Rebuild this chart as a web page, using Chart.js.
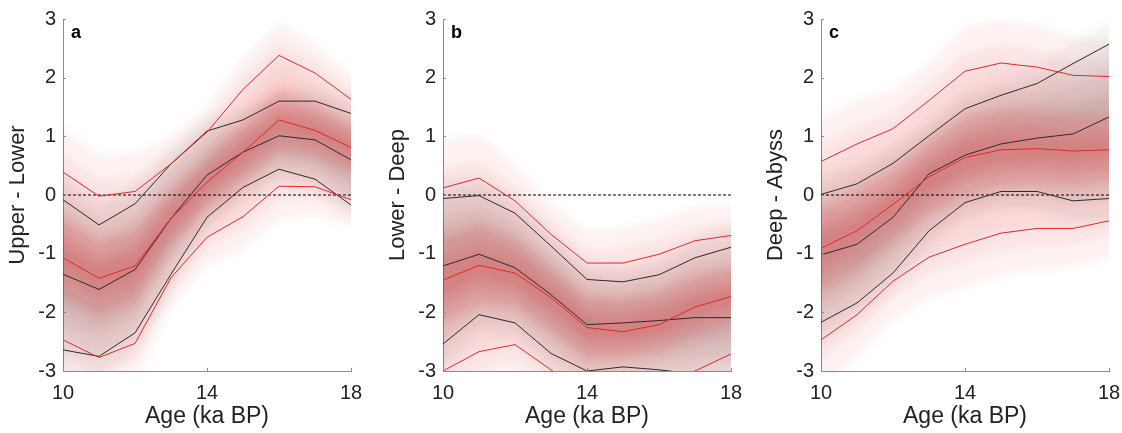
<!DOCTYPE html>
<html>
<head>
<meta charset="utf-8">
<script src="https://cdn.jsdelivr.net/npm/chart.js@4/dist/chart.umd.min.js"></script>
<style>
  html, body { margin: 0; padding: 0; background: #fff; overflow: hidden; }
  #wrap { position: relative; width: 1122px; height: 433px; }
  canvas { position: absolute; top: 0; }
</style>
</head>
<body>
<div id="wrap">
  <canvas id="ca" width="373" height="433" style="left:0px"></canvas>
  <canvas id="cb" width="373" height="433" style="left:380px"></canvas>
  <canvas id="cc" width="373" height="433" style="left:758px"></canvas>
</div>
<script>
// ages (ka BP)
var ages = [10, 11, 12, 13, 14, 15, 16, 17, 18];

// a: Upper - Lower
var aRedHi   = [0.39, -0.02, 0.06, 0.53, 1.07, 1.80, 2.38, 2.08, 1.63];
var aBlkHi   = [-0.08, -0.51, -0.15, 0.53, 1.09, 1.28, 1.60, 1.60, 1.39];
var aRedMid  = [-1.07, -1.42, -1.21, -0.40, 0.22, 0.73, 1.28, 1.10, 0.81];
var aBlkMid  = [-1.35, -1.61, -1.27, -0.40, 0.34, 0.73, 1.01, 0.94, 0.60];
var aBlkLo   = [-2.64, -2.75, -2.35, -1.35, -0.38, 0.13, 0.44, 0.27, -0.17];
var aRedLo   = [-2.47, -2.77, -2.53, -1.41, -0.72, -0.37, 0.15, 0.14, -0.08];

// b: Lower - Deep
var bRedHi   = [0.12, 0.29, -0.10, -0.67, -1.16, -1.16, -1.01, -0.78, -0.69];
var bBlkHi   = [-0.06, -0.01, -0.31, -0.87, -1.44, -1.48, -1.36, -1.07, -0.89];
var bRedMid  = [-1.45, -1.20, -1.33, -1.75, -2.26, -2.33, -2.21, -1.91, -1.73];
var bBlkMid  = [-1.21, -1.01, -1.24, -1.70, -2.21, -2.18, -2.14, -2.09, -2.09];
var bBlkLo   = [-2.54, -2.04, -2.18, -2.70, -3.00, -2.93, -2.98, -3.05, -3.15];
var bRedLo   = [-3.00, -2.67, -2.55, -2.98, -3.40, -3.30, -3.20, -3.00, -2.71];

// c: Deep - Abyss
var cRedHi   = [0.57, 0.87, 1.13, 1.61, 2.11, 2.25, 2.18, 2.04, 2.02];
var cBlkHi   = [0.01, 0.19, 0.54, 1.01, 1.47, 1.70, 1.90, 2.24, 2.57];
var cRedMid  = [-0.91, -0.61, -0.16, 0.31, 0.64, 0.77, 0.79, 0.75, 0.77];
var cBlkMid  = [-1.02, -0.84, -0.38, 0.36, 0.68, 0.87, 0.97, 1.04, 1.33];
var cBlkLo   = [-2.17, -1.84, -1.33, -0.61, -0.13, 0.06, 0.06, -0.10, -0.06];
var cRedLo   = [-2.47, -2.04, -1.47, -1.06, -0.84, -0.65, -0.57, -0.57, -0.44];

var yTicks = [-3, -2, -1, 0, 1, 2, 3];
var xTicks = [10, 14, 18];
var zeroLine = [0, 0];

var RED = '#dc2a2a';
var BLK = '#2b2b2b';
var AXIS = '#8a8a8a';
var FONT = "'Liberation Sans', Arial, sans-serif";

function pts(arr) {
	return arr.map(function(v, i) { return {x: ages[i], y: v}; });
}

// soft ensemble cloud around the median, scaled towards the envelopes
var cloud = {
	id: 'cloud',
	beforeDatasetsDraw: function(chart) {
		var opt = chart.options.plugins.cloud;
		var ctx = chart.ctx, a = chart.chartArea;
		var xs = chart.scales.x, ys = chart.scales.y;
		ctx.save();
		ctx.beginPath();
		ctx.rect(a.left, a.top, a.width, a.height);
		ctx.clip();
		ctx.filter = 'blur(4px)';
		opt.sets.forEach(function(s) {
			s.steps.forEach(function(f) {
				ctx.beginPath();
				var n = ages.length;
				for (var i = 0; i < n; i++) {
					var v = s.mid[i] + f * (s.hi[i] - s.mid[i]);
					var px = xs.getPixelForValue(ages[i]);
					if (i == 0) { ctx.moveTo(px - 12, ys.getPixelForValue(v)); }
					ctx.lineTo(px, ys.getPixelForValue(v));
					if (i == n - 1) { ctx.lineTo(px + 12, ys.getPixelForValue(v)); }
				}
				for (var j = n - 1; j >= 0; j--) {
					var w = s.mid[j] + f * (s.lo[j] - s.mid[j]);
					var qx = xs.getPixelForValue(ages[j]);
					if (j == n - 1) { ctx.lineTo(qx + 12, ys.getPixelForValue(w)); }
					ctx.lineTo(qx, ys.getPixelForValue(w));
					if (j == 0) { ctx.lineTo(qx - 12, ys.getPixelForValue(w)); }
				}
				ctx.closePath();
				ctx.fillStyle = s.color;
				ctx.fill();
			});
		});
		ctx.restore();
	}
};

// inward tick marks and panel letter
var decor = {
	id: 'decor',
	afterDraw: function(chart) {
		var ctx = chart.ctx, a = chart.chartArea;
		var xs = chart.scales.x, ys = chart.scales.y;
		ctx.save();
		ctx.strokeStyle = AXIS;
		ctx.lineWidth = 1;
		ctx.beginPath();
		xTicks.forEach(function(t) {
			var px = Math.round(xs.getPixelForValue(t)) + 0.5;
			ctx.moveTo(px, a.bottom);
			ctx.lineTo(px, a.bottom - 3);
		});
		yTicks.forEach(function(t) {
			var py = Math.round(ys.getPixelForValue(t)) + 0.5;
			ctx.moveTo(a.left, py);
			ctx.lineTo(a.left + 3, py);
		});
		ctx.stroke();
		ctx.fillStyle = '#000';
		ctx.font = 'bold 18px ' + FONT;
		ctx.textBaseline = 'alphabetic';
		ctx.fillText(chart.options.plugins.decor.letter, a.left + 8, a.top + 19);
		ctx.restore();
	}
};

function makeChart(id, letter, title, redHi, blkHi, redMid, blkMid, blkLo, redLo) {
	var line = function(arr, color) {
		return {data: pts(arr), borderColor: color, borderWidth: 1, pointRadius: 0, tension: 0, fill: false};
	};
	return new Chart(document.getElementById(id), {
		type: 'line',
		data: {
			datasets: [
				line(redHi, RED), line(redMid, RED), line(redLo, RED),
				line(blkHi, BLK), line(blkMid, BLK), line(blkLo, BLK),
				{data: [{x: 10, y: zeroLine[0]}, {x: 18, y: zeroLine[1]}], borderColor: '#000', borderWidth: 1,
				 borderDash: [3, 2], pointRadius: 0, fill: false}
			]
		},
		options: {
			responsive: false,
			animation: false,
			layout: {padding: {left: 0, right: 22, top: 19, bottom: 0}},
			plugins: {
				legend: {display: false},
				tooltip: {enabled: false},
				decor: {letter: letter},
				cloud: {sets: [
					{hi: redHi, mid: redMid, lo: redLo, color: 'rgba(225,60,60,0.07)', steps: [1.5, 1.2, 0.95, 0.7, 0.45]},
					{hi: blkHi, mid: blkMid, lo: blkLo, color: 'rgba(70,60,60,0.06)', steps: [1.3, 1.0, 0.7, 0.4]},
					{hi: redHi, mid: redMid, lo: redLo, color: 'rgba(215,30,30,0.1)', steps: [0.5, 0.3, 0.15]}
				]}
			},
			scales: {
				x: {
					type: 'linear', min: 10, max: 18,
					afterFit: function(s) { s.height = 62; },
					afterBuildTicks: function(s) { s.ticks = xTicks.map(function(v) { return {value: v}; }); },
					grid: {display: false, drawTicks: false},
					border: {display: true, color: AXIS, width: 1},
					ticks: {color: '#222', font: {family: FONT, size: 20}, padding: 10, maxRotation: 0},
					title: {display: true, text: 'Age (ka BP)', color: '#222', font: {family: FONT, size: 23},
					        padding: {top: 0, bottom: 3}}
				},
				y: {
					min: -3, max: 3,
					afterFit: function(s) { s.width = 63; },
					afterBuildTicks: function(s) { s.ticks = yTicks.map(function(v) { return {value: v}; }); },
					grid: {display: false, drawTicks: false},
					border: {display: true, color: AXIS, width: 1},
					ticks: {color: '#222', font: {family: FONT, size: 20}, padding: 7},
					title: {display: true, text: title, color: '#222', font: {family: FONT, size: 22},
					        padding: {top: 5, bottom: 0}}
				}
			}
		},
		plugins: [cloud, decor]
	});
}

makeChart('ca', 'a', 'Upper - Lower', aRedHi, aBlkHi, aRedMid, aBlkMid, aBlkLo, aRedLo);
makeChart('cb', 'b', 'Lower - Deep', bRedHi, bBlkHi, bRedMid, bBlkMid, bBlkLo, bRedLo);
makeChart('cc', 'c', 'Deep - Abyss', cRedHi, cBlkHi, cRedMid, cBlkMid, cBlkLo, cRedLo);
</script>
</body>
</html>
